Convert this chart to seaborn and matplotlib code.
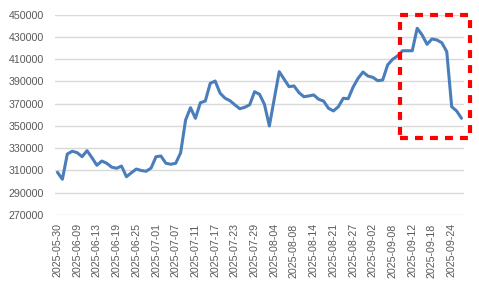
import matplotlib
matplotlib.use("Agg")
import matplotlib.pyplot as plt
import seaborn as sns
import pandas as pd
from matplotlib.patches import Rectangle

dates = [
    "2025-05-30", "2025-06-03", "2025-06-04", "2025-06-05", "2025-06-09", "2025-06-10",
    "2025-06-11", "2025-06-12", "2025-06-13", "2025-06-16", "2025-06-17", "2025-06-18",
    "2025-06-19", "2025-06-20", "2025-06-23", "2025-06-24", "2025-06-25", "2025-06-26",
    "2025-06-27", "2025-06-30", "2025-07-01", "2025-07-02", "2025-07-03", "2025-07-04",
    "2025-07-07", "2025-07-08", "2025-07-09", "2025-07-10", "2025-07-11", "2025-07-14",
    "2025-07-15", "2025-07-16", "2025-07-17", "2025-07-18", "2025-07-21", "2025-07-22",
    "2025-07-23", "2025-07-24", "2025-07-25", "2025-07-28", "2025-07-29", "2025-07-30",
    "2025-07-31", "2025-08-01", "2025-08-04", "2025-08-05", "2025-08-06", "2025-08-07",
    "2025-08-08", "2025-08-11", "2025-08-12", "2025-08-13", "2025-08-14", "2025-08-15",
    "2025-08-18", "2025-08-19", "2025-08-21", "2025-08-22", "2025-08-25", "2025-08-26",
    "2025-08-27", "2025-08-28", "2025-08-29", "2025-09-01", "2025-09-02", "2025-09-03",
    "2025-09-04", "2025-09-05", "2025-09-08", "2025-09-09", "2025-09-10", "2025-09-11",
    "2025-09-12", "2025-09-15", "2025-09-16", "2025-09-17", "2025-09-18", "2025-09-19",
    "2025-09-22", "2025-09-23", "2025-09-24", "2025-09-25", "2025-09-26",
]

values = [
    308400, 302100, 324800, 327300, 326000, 322400, 327800, 321500, 314700, 318500,
    316500, 313000, 312000, 314000, 304400, 308000, 311300, 310000, 309300, 312200,
    322400, 323000, 316500, 315600, 316500, 326000, 355400, 366400, 356900, 370900,
    372400, 388300, 390400, 379500, 375000, 372700, 369000, 365500, 366800, 369000,
    380800, 378500, 369500, 350000, 374500, 398800, 392000, 385300, 386000, 380000,
    376300, 377000, 377900, 374000, 372400, 365900, 363500, 367300, 374900, 374500,
    385000, 392800, 398500, 394900, 393700, 390700, 391300, 404800, 409900, 412900,
    417600, 417600, 417600, 437800, 431800, 423400, 428200, 427300, 424800, 416800,
    367300, 363500, 356900,
]

y_ticks = [270000, 290000, 310000, 330000, 350000, 370000, 390000, 410000, 430000, 450000]
label_step = 4

df = pd.DataFrame({"date": dates, "value": values})

sns.set_theme(style="white")
plt.rcParams["font.family"] = ["Liberation Sans", "DejaVu Sans"]

fig = plt.figure(figsize=(4.79, 2.88), dpi=100)
ax = fig.add_axes([55 / 479, 1 - 215 / 288, 409 / 479, 200.3 / 288])

sns.lineplot(data=df, x="date", y="value", ax=ax, color="#4A7EBB",
             linewidth=2.2, sort=False)

ax.set_xlim(-0.5, len(dates) - 0.5)
ax.set_ylim(y_ticks[0], y_ticks[-1])
ax.set_yticks(y_ticks)
ax.set_yticklabels([str(v) for v in y_ticks])
ax.set_xticks(range(0, len(dates), label_step))
ax.set_xticklabels(dates[::label_step], rotation=90)

ax.grid(axis="y", color="#D9D9D9", linewidth=1.0)
ax.grid(axis="x", visible=False)
ax.set_axisbelow(True)
for s in ["top", "right", "left", "bottom"]:
    ax.spines[s].set_visible(False)
ax.tick_params(axis="y", length=0, pad=8, labelsize=7.7, labelcolor="#595959")
ax.tick_params(axis="x", length=0, pad=6, labelsize=7.7, labelcolor="#595959")
ax.set_xlabel("")
ax.set_ylabel("")

# red dashed highlight box (annotation)
rect = Rectangle((69.5, 339500), 14.3, 450100 - 339500, fill=False,
                 edgecolor="#FF0000", linewidth=3.0, linestyle=(0, (1.9, 1.7)),
                 clip_on=False, zorder=5)
ax.add_patch(rect)

fig.savefig("out.png", dpi=100)
